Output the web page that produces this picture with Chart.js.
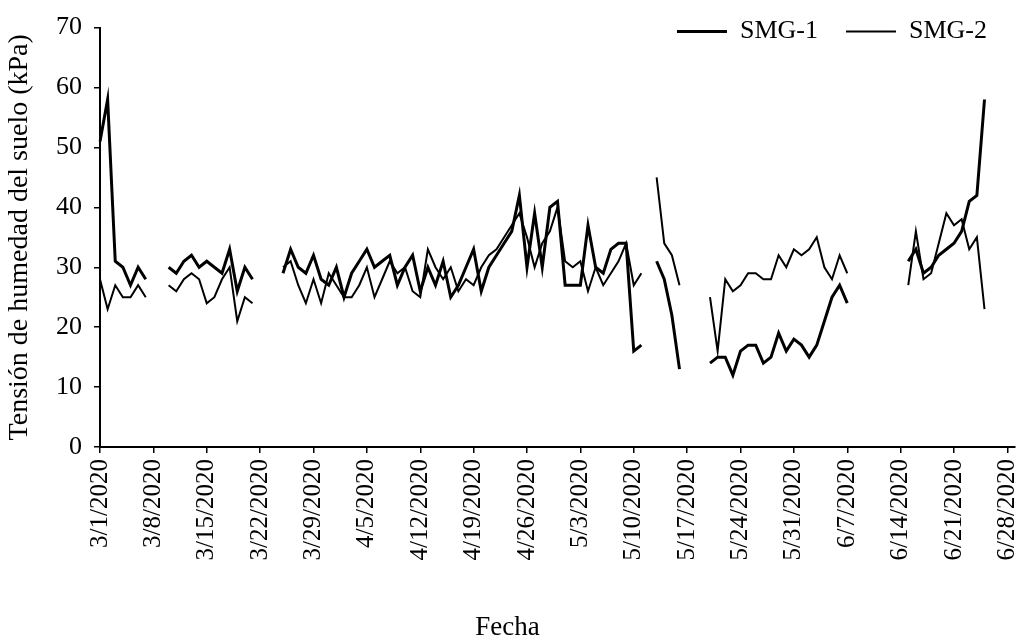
<!DOCTYPE html>
<html>
<head>
<meta charset="utf-8">
<script src="https://cdn.jsdelivr.net/npm/chart.js@4.4.1/dist/chart.umd.min.js"></script>
<style>
  html, body { margin: 0; padding: 0; background: #fff; }
  #wrap { width: 1021px; height: 637px; }
</style>
</head>
<body>
<div id="wrap"><canvas id="myChart" width="1021" height="637"></canvas></div>
<script>
// daily dates 3/1/2020 .. 6/29/2020
const fechas = [];
for (let d = new Date(2020, 2, 1); d <= new Date(2020, 5, 29); d.setDate(d.getDate() + 1)) {
    fechas.push((d.getMonth() + 1) + '/' + d.getDate() + '/' + d.getFullYear());
}

// soil moisture tension (kPa), one row per week, null = no reading
const smg1 = [
    51, 58, 31, 30, 27, 30, 28,
    null, null, 30, 29, 31, 32, 30,
    31, 30, 29, 33, 26, 30, 28,
    null, null, null, 29, 33, 30, 29,
    32, 28, 27, 30, 25, 29, 31,
    33, 30, 31, 32, 27, 30, 32,
    26, 30, 27, 31, 25, 27, 30,
    33, 26, 30, 32, 34, 36, 42,
    30, 39, 30, 40, 41, 27, 27,
    27, 37, 30, 29, 33, 34, 34,
    16, 17, null, 31, 28, 22, 13,
    null, null, null, 14, 15, 15, 12,
    16, 17, 17, 14, 15, 19, 16,
    18, 17, 15, 17, 21, 25, 27,
    24, null, null, null, null, null, null,
    null, 31, 33, 29, 30, 32, 33,
    34, 36, 41, 42, 58, null, null,
    null, null
];

const smg2 = [
    28, 23, 27, 25, 25, 27, 25,
    null, null, 27, 26, 28, 29, 28,
    24, 25, 28, 30, 21, 25, 24,
    null, null, null, 30, 31, 27, 24,
    28, 24, 29, 27, 25, 25, 27,
    30, 25, 28, 31, 29, 30, 26,
    25, 33, 30, 28, 30, 26, 28,
    27, 30, 32, 33, 35, 37, 39,
    35, 30, 34, 36, 40, 31, 30,
    31, 26, 30, 27, 29, 31, 34,
    27, 29, null, 45, 34, 32, 27,
    null, null, null, 25, 16, 28, 26,
    27, 29, 29, 28, 28, 32, 30,
    33, 32, 33, 35, 30, 28, 32,
    29, null, null, null, null, null, null,
    null, 27, 36, 28, 29, 34, 39,
    37, 38, 33, 35, 23, null, null,
    null, null
];

Chart.defaults.font.family = '"Liberation Serif", "Times New Roman", serif';
Chart.defaults.color = '#000';

// the legend sits on the same row as the 70 tick: pull it up and
// give it a taller box so its clip does not cut the items off
const legendShift = {
    id: 'legendShift',
    afterLayout(chart) {
        const lg = chart.legend;
        lg.top -= 14;
        lg.bottom = lg.top + 70;
        lg.height = 70;
    }
};

const ctx = document.getElementById('myChart');
const myChart = new Chart(ctx, {
    type: 'line',
    data: {
        labels: fechas,
        datasets: [{
            label: 'SMG-1',
            data: smg1,
            borderColor: '#000',
            backgroundColor: '#000',
            borderWidth: 3,
            pointRadius: 0,
            tension: 0,
            spanGaps: false
        },
        {
            label: 'SMG-2',
            data: smg2,
            borderColor: '#000',
            backgroundColor: '#000',
            borderWidth: 2,
            pointRadius: 0,
            tension: 0,
            spanGaps: false
        }]
    },
    options: {
        responsive: false,
        devicePixelRatio: 1,
        animation: false,
        layout: { padding: { top: 0, right: 6, left: 0, bottom: 0 } },
        plugins: {
            legend: {
                position: 'top',
                align: 'end',
                maxHeight: 23,
                labels: {
                    usePointStyle: true,
                    pointStyle: 'line',
                    pointStyleWidth: 50,
                    padding: 28,
                    color: '#000',
                    font: { size: 26 }
                }
            },
            title: {
                display: true,
                position: 'bottom',
                text: 'Fecha',
                color: '#000',
                font: { size: 27, weight: 'normal', lineHeight: 1 },
                padding: { top: 0, bottom: -4 }
            },
            tooltip: { enabled: false }
        },
        scales: {
            x: {
                offset: false,
                grid: { drawOnChartArea: false, color: '#000', lineWidth: 1.5, tickLength: 6 },
                border: { color: '#000', width: 2 },
                ticks: {
                    autoSkip: false,
                    maxRotation: 90,
                    minRotation: 90,
                    padding: 6,
                    color: '#000',
                    font: { size: 25 }
                },
                afterBuildTicks: scale => {
                    scale.ticks = scale.ticks.filter(t => t.value % 7 === 0);
                },
                afterFit: scale => {
                    scale.height = 167;
                    scale.paddingLeft = 0;
                    scale.paddingRight = 0;
                }
            },
            y: {
                min: 0,
                max: 70,
                grid: { drawOnChartArea: false, color: '#000', lineWidth: 1.5, tickLength: 6 },
                border: { color: '#000', width: 2 },
                ticks: { stepSize: 10, padding: 12, color: '#000', font: { size: 26 } },
                title: {
                    display: true,
                    text: 'Tensión de humedad del suelo (kPa)',
                    color: '#000',
                    font: { size: 28 },
                    padding: { top: 3, bottom: 0 }
                },
                afterFit: scale => {
                    scale.width = 100;
                }
            }
        }
    },
    plugins: [legendShift]
});
</script>
</body>
</html>
